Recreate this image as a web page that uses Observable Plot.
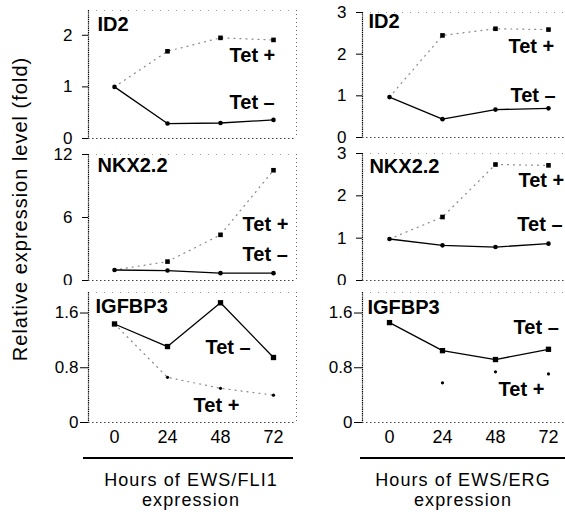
<!DOCTYPE html>
<html><head><meta charset="utf-8">
<script src="https://cdn.jsdelivr.net/npm/d3@7"></script>
<script src="https://cdn.jsdelivr.net/npm/@observablehq/plot@0.6"></script>
<style>
body{margin:0;background:#fff;}
#chart{position:relative;width:565px;height:518px;overflow:hidden;font-family:"Liberation Sans",Arial,Helvetica,sans-serif;color:#000;background:#fff}
.pan{position:absolute}
.ylab{position:absolute;left:-160px;top:197px;width:360px;height:24px;line-height:24px;text-align:center;font-size:20px;letter-spacing:1px;transform:rotate(-90deg);white-space:nowrap}
.xrule{position:absolute;top:457px;height:2px;background:#000}
.xtitle{position:absolute;top:470px;width:240px;text-align:center;font-size:18px;line-height:20px;letter-spacing:1.1px}
</style></head><body><div id="chart"></div>
<script>
// ---- data ----
const hours = [0, 24, 48, 72];
const genes = ["ID2", "NKX2.2", "IGFBP3"];
const fusions = ["EWS/FLI1", "EWS/ERG"];
const seriesNames = ["Tet +", "Tet –"];
const yLabel = "Relative expression level (fold)";

const id2FliMinus = [1.0, 0.29, 0.30, 0.36];
const id2FliPlus  = [1.0, 1.69, 1.95, 1.91];
const id2ErgMinus = [0.97, 0.44, 0.67, 0.70];
const id2ErgPlus  = [0.97, 2.45, 2.61, 2.59];
const nkxFliMinus = [1.0, 0.95, 0.70, 0.70];
const nkxFliPlus  = [1.0, 1.8, 4.35, 10.5];
const nkxErgMinus = [0.98, 0.83, 0.79, 0.87];
const nkxErgPlus  = [0.98, 1.5, 2.74, 2.72];
const igfFliMinus = [1.44, 1.11, 1.75, 0.95];
const igfFliPlus  = [1.44, 0.66, 0.50, 0.40];
const igfErgMinus = [1.46, 1.05, 0.92, 1.07];
const igfErgPlus  = [1.46, 0.58, 0.74, 0.71];

const ticksId2Fli = [0, 1, 2];
const ticksId2Erg = [0, 1, 2, 3];
const ticksNkxFli = [0, 6, 12];
const ticksNkxErg = [0, 1, 2, 3];
const ticksIgf = [0, 0.8, 1.6];

// ---- layout ----
const chart = document.getElementById("chart");
const font = '"Liberation Sans", Arial, Helvetica, sans-serif';
const cols = [
  {left: 0, width: 298, marginLeft: 88, marginRight: 2, xDomain: [-11.78, 82.42]},
  {left: 300, width: 265, marginLeft: 62, marginRight: 0, xDomain: [-12.23, 79.71]}
];
const rows = [
  {top: 0, height: 145, tickSize: 6, tickPadding: 10},
  {top: 145, height: 140, tickSize: 6, tickPadding: 10},
  {top: 285, height: 165, tickSize: 8, tickPadding: 2}
];

function table(plus, minus) {
  return hours.flatMap((h, i) => [
    {hour: h, value: plus[i], series: seriesNames[0]},
    {hour: h, value: minus[i], series: seriesNames[1]}
  ]);
}

const panels = [
  {r: 0, c: 0, gene: genes[0], data: table(id2FliPlus, id2FliMinus), ticks: ticksId2Fli, yDomain: [0, 2.48], mt: 10, mb: 7,
   title: [-7.7, 2.09], plusLab: [52.1, 1.48], minusLab: [52.1, 0.58], plusLine: true},
  {r: 0, c: 1, gene: genes[0], data: table(id2ErgPlus, id2ErgMinus), ticks: ticksId2Erg, yDomain: [0, 3], mt: 12, mb: 8,
   title: [-9.5, 2.62], plusLab: [53.9, 2.02], minusLab: [54.8, 0.85], plusLine: true},
  {r: 1, c: 0, gene: genes[1], data: table(nkxFliPlus, nkxFliMinus), ticks: ticksNkxFli, yDomain: [0, 12], mt: 9, mb: 5,
   title: [-7.7, 10.3], plusLab: [58, 4.76], minusLab: [58, 1.9], plusLine: true},
  {r: 1, c: 1, gene: genes[1], data: table(nkxErgPlus, nkxErgMinus), ticks: ticksNkxErg, yDomain: [0, 3], mt: 8, mb: 5,
   title: [-9.1, 2.55], plusLab: [58.4, 2.2], minusLab: [57.9, 1.16], plusLine: true},
  {r: 2, c: 0, gene: genes[2], data: table(igfFliPlus, igfFliMinus), ticks: ticksIgf, yDomain: [0, 1.9], mt: 7, mb: 28,
   title: [-8.6, 1.6], plusLab: [35.8, 0.15], minusLab: [41.2, 1.0], plusLine: true},
  {r: 2, c: 1, gene: genes[2], data: table(igfErgPlus, igfErgMinus), ticks: ticksIgf, yDomain: [0, 1.9], mt: 7, mb: 28,
   title: [-10, 1.58], plusLab: [49.4, 0.39], minusLab: [56.2, 1.29], plusLine: false}
];

for (const p of panels) {
  const col = cols[p.c], row = rows[p.r];
  const bottom = p.r === 2;
  const plus = p.data.filter(d => d.series === seriesNames[0]);
  const minus = p.data.filter(d => d.series === seriesNames[1]);
  const labels = [
    {x: p.plusLab[0], y: p.plusLab[1], text: seriesNames[0]},
    {x: p.minusLab[0], y: p.minusLab[1], text: seriesNames[1]}
  ];
  const marks = [
    Plot.ruleY([0], {stroke: "#444", strokeDasharray: "1.5,2.5"}),
    Plot.ruleY([p.yDomain[1]], {stroke: "#999", strokeDasharray: "1,7"}),
    Plot.ruleX([col.xDomain[1]], {stroke: "#666", strokeDasharray: "1,3"}),
    Plot.ruleX([col.xDomain[0]], {stroke: "#000", strokeWidth: 1.2, strokeDasharray: "1.4,0.8"}),
    Plot.axisY({ticks: p.ticks, tickSize: row.tickSize, tickPadding: row.tickPadding, tickFormat: d => String(d), label: null}),
    p.plusLine ? Plot.line(plus, {x: "hour", y: "value", stroke: "#888", strokeWidth: 1.2, strokeDasharray: "1,5"}) : null,
    Plot.line(minus, {x: "hour", y: "value", stroke: "#000", strokeWidth: 1.3}),
    Plot.dot(plus.filter(d => d.hour > 0), {x: "hour", y: "value", fill: "#000", stroke: null,
      symbol: bottom ? "circle" : "square", r: bottom ? 1.6 : 2.6}),
    Plot.dot(minus, {x: "hour", y: "value", fill: "#000", stroke: null,
      symbol: bottom ? "square" : "circle", r: bottom ? 3 : 2.3}),
    Plot.text([p.gene], {x: () => p.title[0], y: () => p.title[1], text: d => d, textAnchor: "start", lineAnchor: "bottom",
      fontSize: 20, fontWeight: "bold"}),
    Plot.text(labels, {x: "x", y: "y", text: "text", textAnchor: "start", lineAnchor: "bottom", fontSize: 20, fontWeight: "bold"})
  ];
  if (bottom) marks.push(Plot.axisX({ticks: hours, tickSize: 0, tickPadding: 8, label: null, fontSize: 18}));
  const svg = Plot.plot({
    width: col.width, height: row.height,
    marginLeft: col.marginLeft, marginRight: col.marginRight, marginTop: p.mt, marginBottom: p.mb,
    x: {domain: col.xDomain, ...(bottom ? {} : {axis: null})},
    y: {domain: p.yDomain},
    style: {fontFamily: font, fontSize: "17px", background: "white", color: "black", overflow: "visible"},
    marks: marks.filter(Boolean)
  });
  svg.classList.add("pan");
  svg.style.left = col.left + "px";
  svg.style.top = row.top + "px";
  chart.appendChild(svg);
}

// rules and titles below
[{left: 83, width: 210}, {left: 360, width: 205}].forEach((r, i) => {
  const d = document.createElement("div");
  d.className = "xrule"; d.style.left = r.left + "px"; d.style.width = r.width + "px";
  chart.appendChild(d);
  const t = document.createElement("div");
  t.className = "xtitle";
  t.style.left = ([191, 463][i] - 120) + "px";
  t.innerHTML = "Hours of " + fusions[i] + "<br>expression";
  chart.appendChild(t);
});
const yl = document.createElement("div");
yl.className = "ylab"; yl.textContent = yLabel;
chart.appendChild(yl);
</script></body></html>
